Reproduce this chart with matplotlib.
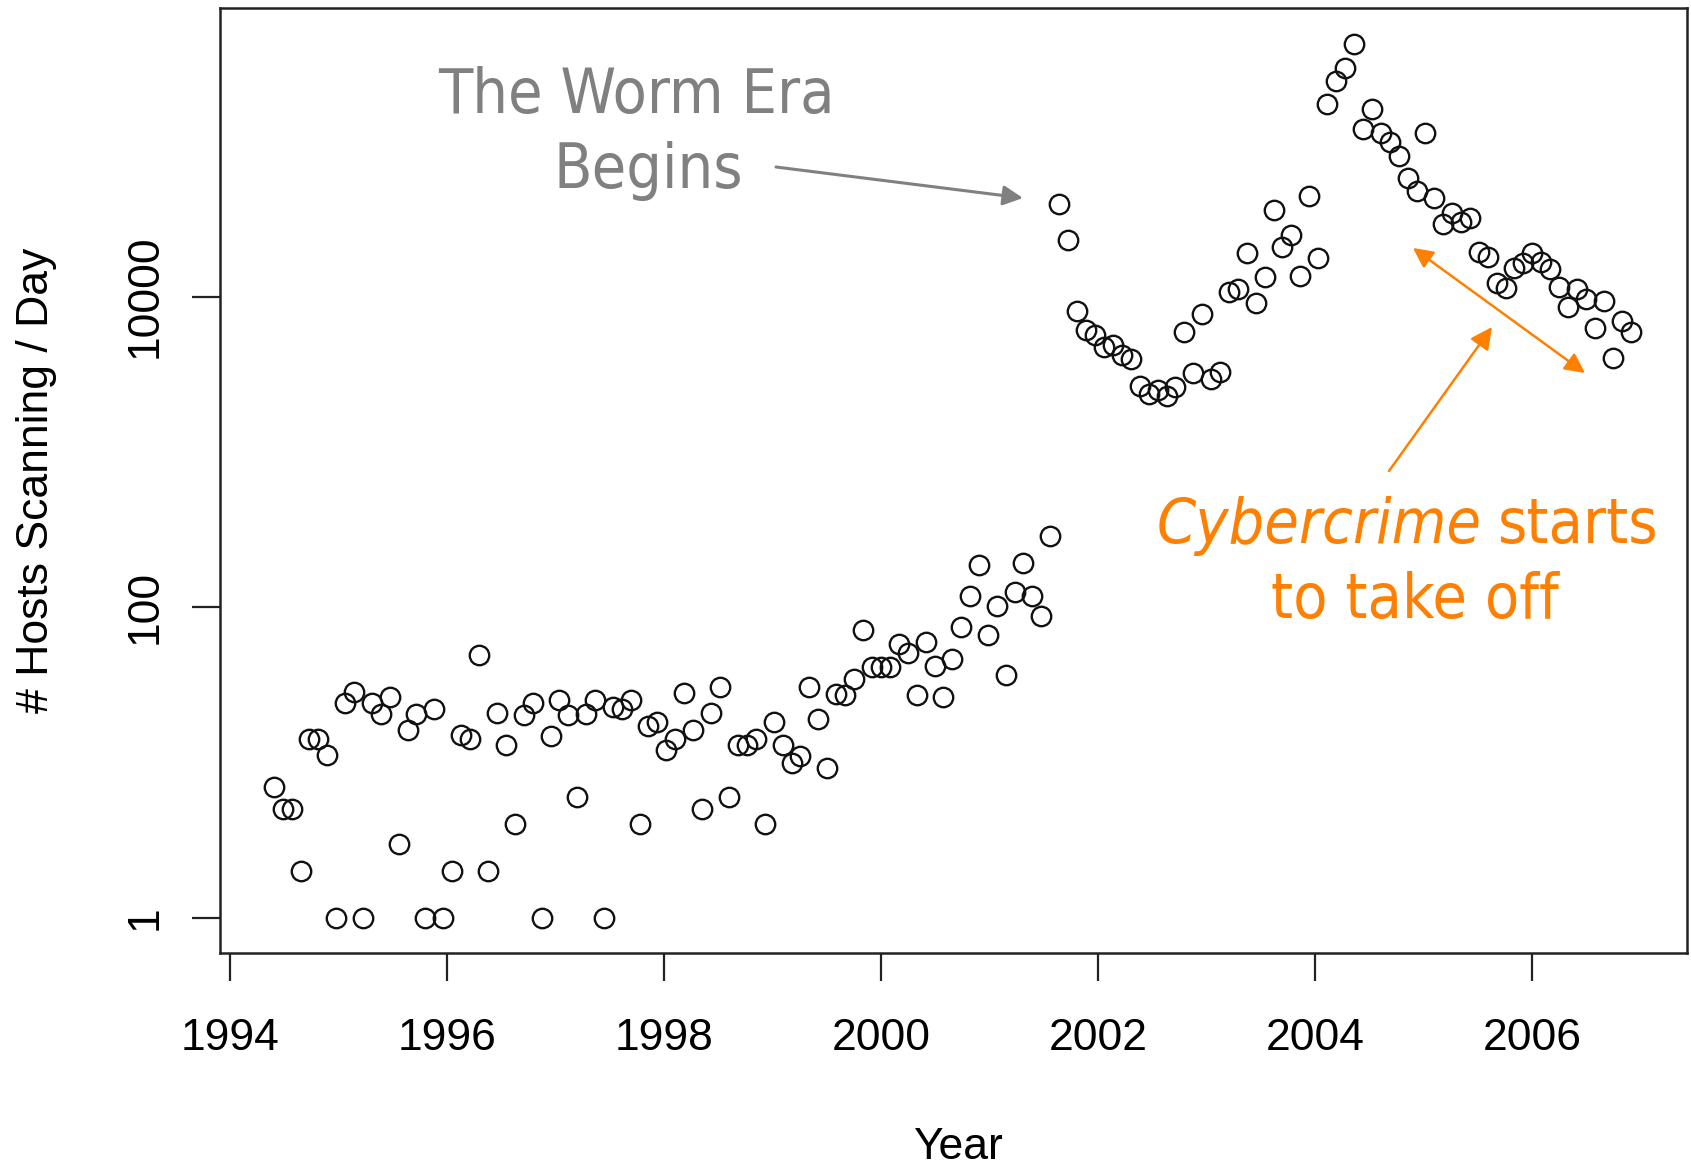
import matplotlib.pyplot as plt
import numpy as np
import pandas as pd
from matplotlib.ticker import NullLocator

# hosts scanning per day, one value per ~30 days, from late May 1994
hosts = [
    7.0, 5.0, 5.0, 2.0, 14.1, 14.1, 11.2,
    1, 24.1, 28.3, 1, 24.3, 20.7, 26.5, 3.0, 16.2, 20.5, 1, 22.3,
    1, 2.0, 15.0, 14.1, 49.5, 2.0, 21.0, 12.9, 4.0, 20.4, 24.3, 1,
    14.9, 25.3, 20.4, 6.0, 20.7, 25.3, 1, 22.9, 22.3, 25.3, 4.0, 17.2,
    18.3, 12.1, 14.1, 28.1, 16.3, 5.0, 20.9, 30.5, 6.0, 12.9, 12.9, 14.3,
    4.0, 18.4, 12.9, 10.0, 11.1, 30.5, 19.2, 9.2, 27.8, 27.2, 34.3, 71.8,
    41.5, 41.0, 41.5, 58.0, 50.9, 27.2, 59.5, 41.8, 26.6, 46.8, 74.3, 118,
    187, 66, 102, 36.6, 126, 194, 118, 88, 287, 39300, 22960, 8120,
    6090, 5660, 4760, 4870, 4220, 3960, 2650, 2370, 2500, 2300,
    2610, 5940, 3230, 7740, 2930, 3280, 10770, 11130, 19170, 9040,
    13300, 36100, 20980, 24870, 13550, 44460, 17650, 173800, 245500, 294500,
    422800, 119400, 160600, 112500, 99300, 80500, 57800, 48100, 113700, 42950,
    29320, 34360, 30380, 31930, 19450, 17910, 12170, 11300, 15200, 16370,
    18980, 16790, 14990, 11580, 8530, 11130, 9610, 6250, 9410, 4020,
    6920, 5940,
]
start_date = '1994-05-29'
year_ticks = [1994, 1996, 1998, 2000, 2002, 2004, 2006]
y_ticks = [1, 100, 10000]
y_tick_labels = ['1', '100', '10000']

GRAY = '#808080'
ORANGE = '#ff8000'

plt.rcParams['font.family'] = ['Liberation Sans', 'DejaVu Sans']

dates = pd.date_range(start_date, periods=len(hosts), freq='721h')
years = dates.year + (dates.dayofyear - 1) / 365.25

fig = plt.figure(figsize=(16.91, 11.68), dpi=100)
ax = fig.add_axes([220 / 1691, 1 - 952.5 / 1168, 1466.5 / 1691, 944.5 / 1168])

ax.plot(years, hosts, 'o', ms=14, mfc='none', mec='#111111', mew=1.7)

ax.set_yscale('log')
ax.set_xlim(1993.91, 2007.42)
ax.set_ylim(0.60, 7.2e5)
ax.set_xticks(year_ticks)
ax.set_xticklabels([str(y) for y in year_ticks])
ax.set_yticks(y_ticks)
ax.set_yticklabels(y_tick_labels, rotation=90, va='center')
ax.yaxis.set_minor_locator(NullLocator())
ax.xaxis.set_minor_locator(NullLocator())
ax.tick_params(direction='out', length=20, width=1.6, labelsize=32, color='#222222')
ax.tick_params(axis='x', pad=27)
ax.tick_params(axis='y', pad=19)
for sp in ax.spines.values():
    sp.set_linewidth(1.8)
    sp.set_color('#222222')

ax.set_xlabel('Year', fontsize=32)
ax.xaxis.label.set_va('baseline')
ax.xaxis.set_label_coords(0.503, -0.2186)
ax.set_ylabel('# Hosts Scanning / Day', fontsize=32)
ax.yaxis.label.set_va('center')
ax.yaxis.set_label_coords(-0.1248, 0.5)

# annotations (figure pixel positions)
ann_font = dict(family='DejaVu Sans', fontstretch='condensed', fontsize=45)
ax.annotate('The Worm Era', xy=(636, 1055), xycoords='figure pixels',
            ha='center', va='baseline', color=GRAY, **ann_font)
ax.annotate('Begins', xy=(648, 980), xycoords='figure pixels',
            ha='center', va='baseline', color=GRAY, **ann_font)
ax.annotate('', xy=(1023, 970), xytext=(776, 1001), xycoords='figure pixels',
            textcoords='figure pixels',
            arrowprops=dict(arrowstyle='-|>,head_length=0.6,head_width=0.3',
                            mutation_scale=20, color=GRAY, lw=2.2,
                            shrinkA=0, shrinkB=0))

ax.annotate('Cybercrime', xy=(1482, 625), xycoords='figure pixels',
            ha='right', va='baseline', color=ORANGE, style='italic', **ann_font)
ax.annotate('starts', xy=(1498, 625), xycoords='figure pixels',
            ha='left', va='baseline', color=ORANGE, **ann_font)
ax.annotate('to take off', xy=(1415, 550), xycoords='figure pixels',
            ha='center', va='baseline', color=ORANGE, **ann_font)
ax.annotate('', xy=(1413, 920), xytext=(1585, 795), xycoords='figure pixels',
            textcoords='figure pixels',
            arrowprops=dict(arrowstyle='<|-|>,head_length=0.6,head_width=0.3',
                            mutation_scale=20, color=ORANGE, lw=1.8,
                            shrinkA=0, shrinkB=0))
ax.annotate('', xy=(1492, 841), xytext=(1389, 697), xycoords='figure pixels',
            textcoords='figure pixels',
            arrowprops=dict(arrowstyle='-|>,head_length=0.6,head_width=0.3',
                            mutation_scale=22, color=ORANGE, lw=1.8,
                            shrinkA=0, shrinkB=0))

fig.savefig('out.png', dpi=100)
